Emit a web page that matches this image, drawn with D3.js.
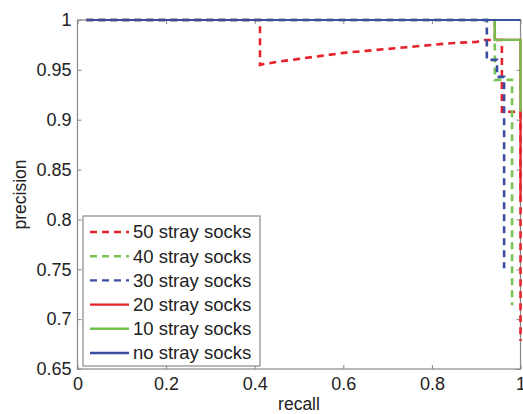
<!DOCTYPE html>
<html>
<head>
<meta charset="utf-8">
<script src="https://cdn.jsdelivr.net/npm/d3@7"></script>
<style>
  body { margin: 0; background: #fff; }
  text { font-family: "Liberation Sans", Arial, sans-serif; fill: #222; }
</style>
</head>
<body>
<svg id="chart" width="523" height="414"></svg>
<script>
// precision / recall curves
var labels = ['50 stray socks', '40 stray socks', '30 stray socks', '20 stray socks', '10 stray socks', 'no stray socks'];
var colors = ['#e3222b', '#7cc356', '#3b4da0', '#e3222b', '#72c04e', '#3b4da0'];
var dashed = [true, true, true, false, false, false];

var recall50 = [0.02, 0.412, 0.412, 0.45, 0.5, 0.55, 0.6, 0.65, 0.7, 0.75, 0.8, 0.85, 0.9, 0.92, 0.958, 0.958, 1, 1];
var prec50   = [1, 1, 0.955, 0.958, 0.961, 0.964, 0.967, 0.969, 0.971, 0.973, 0.975, 0.977, 0.978, 0.98, 0.98, 0.908, 0.908, 0.678];
var recall40 = [0.02, 0.942, 0.942, 0.981, 0.981];
var prec40   = [1, 1, 0.94, 0.94, 0.714];
var recall30 = [0.02, 0.924, 0.924, 0.947, 0.947, 0.963, 0.963];
var prec30   = [1, 1, 0.96, 0.96, 0.943, 0.943, 0.751];
var recall20 = [0.02, 0.942, 0.942, 1, 1];
var prec20   = [1, 1, 0.98, 0.98, 0.82];
var recall10 = [0.02, 0.942, 0.942, 1, 1];
var prec10   = [1, 1, 0.98, 0.98, 0.908];
var recall0  = [0.02, 1];
var prec0    = [1, 1];

var xTicks = [0, 0.2, 0.4, 0.6, 0.8, 1];
var yTicks = [0.65, 0.7, 0.75, 0.8, 0.85, 0.9, 0.95, 1];

var recalls = [recall50, recall40, recall30, recall20, recall10, recall0];
var precs = [prec50, prec40, prec30, prec20, prec10, prec0];

var svg = d3.select('#chart');

var x = d3.scaleLinear().domain([0, 1]).range([77.5, 520.5]);
var y = d3.scaleLinear().domain([0.65, 1]).range([369, 20]);

// axes, ticks pointing inward like matlab
svg.append('g')
    .attr('transform', 'translate(0,' + y(0.65) + ')')
    .call(d3.axisBottom(x).tickValues(xTicks).tickFormat(d3.format('~g')).tickSizeInner(-4).tickSizeOuter(0).tickPadding(8))
    .call(g => g.select('.domain').remove());
svg.append('g')
    .attr('transform', 'translate(' + x(0) + ',0)')
    .call(d3.axisLeft(y).tickValues(yTicks).tickFormat(d3.format('~g')).tickSizeInner(-4).tickSizeOuter(0).tickPadding(6))
    .call(g => g.select('.domain').remove());
svg.append('g')
    .attr('transform', 'translate(0,' + y(1) + ')')
    .call(d3.axisTop(x).tickValues(xTicks).tickFormat('').tickSizeInner(-4).tickSizeOuter(0))
    .call(g => g.select('.domain').remove());
svg.append('g')
    .attr('transform', 'translate(' + x(1) + ',0)')
    .call(d3.axisRight(y).tickValues(yTicks).tickFormat('').tickSizeInner(-4).tickSizeOuter(0))
    .call(g => g.select('.domain').remove());

svg.selectAll('.tick line').attr('stroke', '#888');
svg.selectAll('.tick text').attr('font-size', 18).attr('fill', '#222')
    .attr('font-family', '"Liberation Sans", Arial, sans-serif');

svg.append('rect')
    .attr('x', x(0)).attr('y', y(1))
    .attr('width', x(1) - x(0)).attr('height', y(0.65) - y(1))
    .attr('fill', 'none').attr('stroke', '#888').attr('stroke-width', 1.2);

var line = d3.line()
    .x(d => x(d[0]))
    .y(d => y(d[1]));

recalls.forEach(function(r, i) {
    var pts = r.map((v, j) => [v, precs[i][j]]);
    svg.append('path')
        .datum(pts)
        .attr('d', line)
        .attr('fill', 'none')
        .attr('stroke', colors[i])
        .attr('stroke-width', dashed[i] ? 2.6 : 2.2)
        .attr('stroke-dasharray', dashed[i] ? '7,5' : null);
});

// legend
var lg = svg.append('g');
lg.append('rect')
    .attr('x', 83).attr('y', 216).attr('width', 177).attr('height', 150)
    .attr('fill', '#fff').attr('stroke', '#888').attr('stroke-width', 1.2);
labels.forEach(function(l, i) {
    var ly = 232 + i * 24.2;
    lg.append('line')
        .attr('x1', 90).attr('x2', 129).attr('y1', ly).attr('y2', ly)
        .attr('stroke', colors[i]).attr('stroke-width', 2.4)
        .attr('stroke-dasharray', dashed[i] ? '7,5' : null);
    lg.append('text')
        .attr('x', 133).attr('y', ly).attr('dy', '0.35em')
        .attr('font-size', 18.5)
        .text(l);
});

svg.append('text')
    .attr('x', (x(0) + x(1)) / 2).attr('y', 410)
    .attr('text-anchor', 'middle').attr('font-size', 17.5)
    .text('recall');
svg.append('text')
    .attr('transform', 'translate(26,' + (y(0.65) + y(1)) / 2 + ') rotate(-90)')
    .attr('text-anchor', 'middle').attr('font-size', 17.5)
    .text('precision');
</script>
</body>
</html>
